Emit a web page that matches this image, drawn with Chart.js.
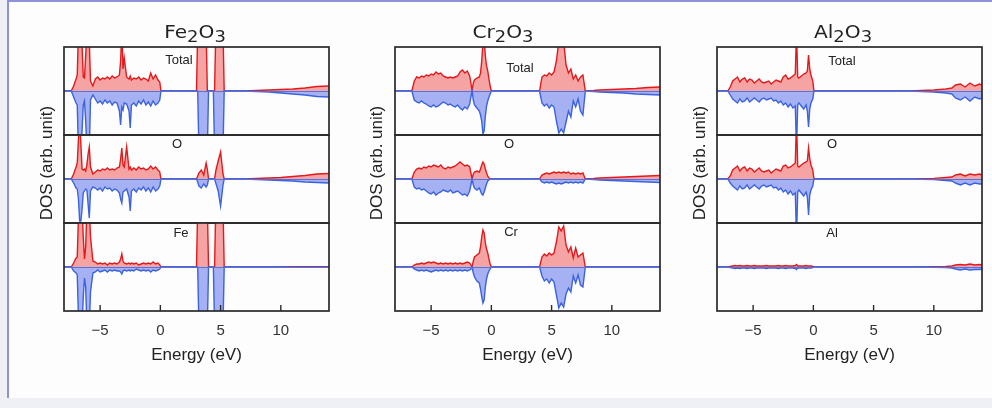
<!DOCTYPE html>
<html>
<head>
<meta charset="utf-8">
<title>DOS of M2O3</title>
<script src="https://cdn.jsdelivr.net/npm/chart.js@4.4.1/dist/chart.umd.min.js"></script>
<style>
  html, body { margin: 0; padding: 0; }
  body { width: 992px; height: 408px; background: #eef0f5; position: relative; overflow: hidden; }
  #sheet { position: absolute; left: 7px; top: 0; width: 990px; height: 396px; background: #fdfdfe;
           border-left: 2px solid #8e91da; border-top: 2px solid #8e91da; }
  canvas { position: absolute; }
  .title { position: absolute; top: 21px; width: 160px; text-align: center; color: #222;
           font: 18px "DejaVu Sans", sans-serif; line-height: 22px; transform: scaleX(1.12); }
  .title span { font-size: 16px; position: relative; top: 4px; }
  .ylab { position: absolute; white-space: nowrap; color: #222; font: 17px "Liberation Sans", Arial, sans-serif;
          transform: translate(-50%, -50%) rotate(-90deg); }
</style>
</head>
<body>
<div id="sheet"></div>
<div id="plots"></div>
<script>
// ---- data: energies in eV, DOS in arbitrary units (spin up > 0, spin down < 0) ----
const energyTicks = [-5, 0, 5, 10];
const compoundNames = ['Fe2O3', 'Cr2O3', 'Al2O3'];
const panelLabels = [['Total', 'O', 'Fe'], ['Total', 'O', 'Cr'], ['Total', 'O', 'Al']];

// Fe2O3
const energyFe = [-8, -7.4, -7.2, -7.0, -6.9, -6.8, -6.7, -6.6, -6.5, -6.4, -6.3, -6.2, -6.1, -6.0, -5.9, -5.8,
  -5.6, -5.4, -5.2, -5.0, -4.8, -4.6, -4.4, -4.2, -4.0, -3.8, -3.6, -3.4, -3.3, -3.2, -3.1, -3.0,
  -2.8, -2.6, -2.5, -2.4, -2.2, -2.0, -1.8, -1.6, -1.4, -1.2, -1.0, -0.8, -0.6, -0.4, -0.2, -0.05, 0.05,
  3.0, 3.1, 3.2, 3.4, 3.6, 3.8, 3.9, 4.0, 4.4, 4.5, 4.6, 4.8, 5.0, 5.2, 5.3,
  7, 8, 9, 10, 11, 12, 13, 14];
const feTotalUp = [0, 0, 5, 12, 16, 60, 60, 60, 45, 14, 13, 35, 60, 60, 50, 10,
  5, 12, 14, 11, 13, 12, 14, 12, 15, 13, 14, 16, 30, 60, 22, 33,
  14, 12, 15, 11, 13, 12, 14, 11, 13, 12, 10, 18, 12, 16, 11, 9, 0,
  0, 60, 60, 60, 60, 60, 0, 0, 0, 0, 60, 60, 60, 60, 0,
  0, 0.5, 1, 1.5, 2, 3, 4.5, 5];
const feTotalDown = [0, 0, -6, -12, -14, -60, -60, -60, -40, -14, -10, -30, -60, -60, -60, -9,
  -4, -8, -12, -10, -13, -9, -12, -10, -14, -11, -12, -20, -34, -16, -19, -12,
  -13, -20, -37, -14, -12, -15, -10, -13, -9, -14, -11, -15, -10, -14, -12, -9, 0,
  0, 0, -60, -60, -60, -60, -60, 0, 0, -60, -60, -60, -60, -60, 0,
  0, -0.5, -1, -2, -3, -4, -5.5, -6];
const feOUp = [0, 0, 5, 12, 16, 40, 60, 35, 10, 9, 10, 8, 14, 25, 32, 12,
  5, 7, 9, 8, 10, 9, 11, 9, 10, 9, 11, 12, 20, 31, 14, 12,
  32, 10, 12, 9, 11, 9, 12, 10, 11, 9, 10, 13, 10, 12, 9, 7, 0,
  0, 3, 6, 9, 4, 16, 10, 0, 0, 0, 8, 18, 27, 5, 0,
  0, 0.5, 1, 1.5, 2.5, 3.5, 5, 5.5];
const feODown = [0, 0, -4, -9, -10, -20, -42, -42, -30, -14, -12, -10, -11, -25, -39, -12,
  -8, -9, -11, -9, -12, -8, -10, -9, -12, -10, -11, -14, -20, -24, -13, -12,
  -10, -18, -32, -12, -10, -13, -9, -11, -8, -12, -9, -13, -8, -12, -10, -7, 0,
  0, -3, -7, -9, -5, -8, -6, 0, 0, 0, -4, -12, -27, -6, 0,
  0, -0.5, -1, -1.5, -2, -3, -3.5, -4];
const feFeUp = [0, 0, 4, 9, 10, 50, 60, 60, 60, 30, 8, 20, 60, 60, 60, 30,
  6, 5, 3, 4, 3, 4, 2, 4, 3, 4, 3, 5, 8, 13, 6, 4,
  3, 4, 3, 4, 3, 4, 2, 3, 4, 3, 4, 3, 5, 3, 4, 2, 0,
  0, 60, 60, 60, 60, 60, 60, 0, 0, 0, 60, 60, 60, 60, 0,
  0, 0, 0, 0, 0.2, 0.2, 0.3, 0.3];
const feFeDown = [0, 0, -4, -6, -8, -50, -60, -60, -60, -30, -11, -20, -60, -60, -60, -25,
  -6, -5, -3, -5, -4, -3, -5, -3, -4, -3, -4, -4, -5, -7, -4, -3,
  -4, -3, -4, -3, -4, -2, -3, -4, -3, -4, -3, -5, -3, -4, -3, -2, 0,
  0, 0, -60, -60, -60, -60, -60, 0, 0, -60, -60, -60, -60, -60, 0,
  0, 0, 0, 0, -0.2, -0.2, -0.3, -0.3];

// Cr2O3
const energyCr = [-8, -6.6, -6.4, -6.2, -6.0, -5.8, -5.6, -5.4, -5.2, -5.0, -4.8, -4.6, -4.4, -4.2, -4.0, -3.8,
  -3.6, -3.4, -3.2, -3.0, -2.8, -2.6, -2.4, -2.2, -2.0, -1.8, -1.7, -1.6, -1.5, -1.4, -1.2, -1.0,
  -0.9, -0.8, -0.7, -0.6, -0.5, -0.4, -0.3, -0.2, -0.1, 0.0,
  4.0, 4.2, 4.4, 4.6, 4.8, 5.0, 5.2, 5.4, 5.6, 5.8, 6.0, 6.2, 6.4, 6.6, 6.8, 7.0, 7.2, 7.4, 7.6, 7.8,
  8.5, 9, 10, 11, 12, 13, 14];
const crTotalUp = [0, 0, 10, 14, 13, 15, 14, 16, 15, 17, 16, 19, 17, 18, 15, 14,
  13, 14, 13, 14, 15, 19, 21, 18, 20, 15, 8, 0, 8, 11, 13, 14,
  18, 30, 48, 52, 35, 25, 20, 12, 5, 0,
  0, 14, 16, 15, 18, 16, 19, 30, 50, 46, 50, 26, 18, 22, 12, 16, 10, 14, 16, 0,
  0.5, 1, 1.5, 2, 2.5, 3.5, 4];
const crTotalDown = [0, 0, -9, -11, -12, -10, -12, -13, -15, -16, -14, -16, -15, -13, -11, -12,
  -14, -13, -15, -16, -14, -17, -19, -16, -18, -13, -6, 0, -9, -14, -17, -20,
  -24, -30, -43, -40, -25, -15, -10, -6, -3, 0,
  0, -12, -15, -13, -17, -14, -16, -30, -42, -38, -42, -31, -20, -26, -10, -16, -8, -20, -24, 0,
  -0.5, -1, -1.5, -2, -3, -3.5, -4];
const crOUp = [0, 0, 7, 10, 11, 10, 12, 11, 13, 12, 14, 13, 12, 14, 11, 10,
  12, 11, 12, 13, 15, 17, 15, 13, 14, 12, 6, 0, 5, 7, 8, 7,
  10, 14, 17, 15, 10, 6, 3, 1, 0, 0,
  0, 4, 5, 6, 5, 6, 7, 6, 7, 6, 7, 6, 7, 5, 6, 5, 6, 5, 6, 0,
  0.5, 1, 1.5, 2, 2.5, 3, 3.5];
const crODown = [0, 0, -8, -10, -9, -11, -10, -12, -14, -15, -13, -16, -14, -13, -11, -12,
  -13, -11, -14, -13, -12, -14, -16, -15, -17, -12, -6, 0, -6, -9, -11, -9,
  -12, -15, -16, -13, -9, -5, -2, -1, 0, 0,
  0, -3, -4, -3, -4, -3, -4, -5, -4, -5, -4, -3, -4, -3, -4, -3, -4, -3, -4, 0,
  -0.5, -1, -1.5, -2, -2.5, -3, -3.5];
const crCrUp = [0, 0, 2, 3, 3, 4, 3, 4, 5, 4, 5, 4, 3, 4, 3, 4,
  3, 4, 3, 4, 3, 4, 3, 4, 5, 4, 2, 0, 6, 10, 12, 14,
  20, 30, 37, 34, 24, 18, 14, 8, 3, 0,
  0, 10, 13, 11, 14, 12, 14, 25, 40, 36, 41, 22, 15, 20, 9, 19, 10, 12, 14, 0,
  0, 0, 0, 0, 0, 0, 0];
const crCrDown = [0, 0, -2, -3, -4, -3, -4, -3, -4, -5, -4, -3, -4, -3, -4, -3,
  -4, -3, -4, -3, -4, -3, -4, -3, -4, -3, -2, 0, -6, -10, -14, -16,
  -22, -30, -36, -33, -20, -12, -7, -4, -2, 0,
  0, -9, -14, -12, -16, -12, -15, -28, -41, -36, -40, -27, -21, -25, -9, -16, -8, -18, -20, 0,
  0, 0, 0, 0, 0, 0, 0];

// Al2O3
const energyAl = [-8, -7.1, -6.9, -6.7, -6.5, -6.3, -6.1, -5.9, -5.7, -5.5, -5.3, -5.1, -4.9, -4.7, -4.5, -4.3,
  -4.1, -3.9, -3.7, -3.5, -3.3, -3.1, -2.9, -2.7, -2.5, -2.3, -2.1, -1.9, -1.7, -1.5, -1.4, -1.3,
  -1.2, -1.0, -0.8, -0.6, -0.5, -0.4, -0.3, -0.2, -0.05, 0.05,
  8, 9, 10, 11, 11.5, 11.8, 12.2, 12.6, 13.0, 13.4, 13.8, 14];
const alTotalUp = [0, 0, 4, 10, 12, 14, 9, 12, 13, 9, 12, 11, 8, 10, 12, 9,
  8, 9, 10, 7, 9, 11, 10, 9, 14, 16, 12, 13, 15, 17, 60, 14,
  13, 15, 17, 18, 20, 36, 22, 16, 10, 0,
  0, 0.5, 1, 2, 3, 6, 7, 4, 8, 5, 7, 6];
const alTotalDown = [0, 0, -4, -8, -10, -12, -8, -11, -10, -7, -11, -9, -7, -9, -11, -8,
  -7, -9, -8, -7, -10, -9, -12, -10, -14, -12, -16, -13, -17, -15, -60, -14,
  -12, -15, -18, -14, -20, -36, -18, -12, -8, 0,
  0, -0.5, -1, -2, -3, -7, -9, -6, -10, -6, -8, -7];
const alOUp = [0, 0, 3, 9, 11, 13, 8, 11, 12, 8, 11, 10, 7, 9, 11, 8,
  7, 8, 9, 6, 8, 10, 9, 8, 13, 14, 11, 12, 14, 16, 60, 13,
  12, 14, 16, 17, 18, 31, 20, 14, 9, 0,
  0, 0.3, 0.6, 1.5, 2, 4, 5, 3, 5, 4, 5, 4];
const alODown = [0, 0, -4, -7, -9, -11, -7, -10, -9, -6, -10, -8, -6, -8, -10, -7,
  -6, -8, -7, -6, -9, -8, -11, -9, -13, -11, -15, -12, -16, -14, -60, -13,
  -11, -14, -17, -13, -18, -36, -16, -11, -7, 0,
  0, -0.3, -0.6, -1.5, -2, -4, -6, -4, -6, -4, -5, -5];
const alAlUp = [0, 0, 0.5, 1, 1.5, 1, 1.5, 1, 1, 1.5, 1, 1, 1.5, 1, 1, 1,
  1, 1.5, 1, 1, 1, 1, 1.5, 1, 1, 1.5, 1, 1, 1, 1.5, 2.5, 1,
  1, 1, 1, 1.5, 1, 1, 1, 1, 0.5, 0,
  0, 0, 0.2, 0.5, 1, 2, 2.5, 2, 3, 2, 2.5, 2];
const alAlDown = [0, 0, -0.5, -1, -1.5, -1, -1.5, -1, -1, -1.5, -1, -1, -1.5, -1, -1, -1,
  -1, -1.5, -1, -1, -1, -1, -1.5, -1, -1, -1.5, -1, -1, -1, -1.5, -2.5, -1,
  -1, -1, -1, -1.5, -1, -1, -1, -1, -0.5, 0,
  0, 0, -0.2, -0.5, -1, -2, -3, -2, -3, -2.5, -2.5, -2];

const columns = [
  { energy: energyFe, up: [feTotalUp, feOUp, feFeUp], down: [feTotalDown, feODown, feFeDown] },
  { energy: energyCr, up: [crTotalUp, crOUp, crCrUp], down: [crTotalDown, crODown, crCrDown] },
  { energy: energyAl, up: [alTotalUp, alOUp, alAlUp], down: [alTotalDown, alODown, alAlDown] }
];

// ---- layout ----
const colLeft = [64, 395, 717];
const titleCenter = [195, 503, 843];
const dosLabelX = [47, 377, 700];
const DOS_Y = 163;
const labelPos = [[[115, 13], [113, 9], [117, 10]],
                  [[125, 21], [114, 9], [116, 9]],
                  [[125, 14], [115, 9], [115, 10]]];
const BOX_TOP = 47, PANEL_H = 88, BOX_W = 265, PAD = 6, XAXIS_H = 57;
const RED = '#e31a1c', RED_FILL = '#f6a3a3', BLUE = '#3b63de', BLUE_FILL = '#a5b1f2';
const ZERO = '#4f74e4', FRAME = '#2a2a2a';

Chart.defaults.font.family = '"Liberation Sans", Arial, sans-serif';
Chart.defaults.color = '#333';

// frame, zero line, inner ticks and panel label
const panelDeco = {
  id: 'panelDeco',
  afterDatasetsDraw(chart, args, o) {
    const { ctx, chartArea: a, scales } = chart;
    ctx.save();
    const y0 = Math.round(scales.y.getPixelForValue(0)) + 0.5;
    ctx.strokeStyle = ZERO;
    ctx.lineWidth = 1;
    ctx.beginPath();
    ctx.moveTo(a.left, y0);
    ctx.lineTo(a.right, y0);
    ctx.stroke();

    ctx.strokeStyle = FRAME;
    ctx.lineWidth = 1.7;
    ctx.strokeRect(a.left, a.top, a.width, a.height);
    if (o.ticks) {
      ctx.lineWidth = 1.4;
      ctx.beginPath();
      energyTicks.forEach(v => {
        const px = scales.x.getPixelForValue(v);
        ctx.moveTo(px, a.bottom);
        ctx.lineTo(px, a.bottom - 6);
      });
      ctx.stroke();
    }
    ctx.fillStyle = '#222';
    ctx.font = '13px "Liberation Sans", Arial, sans-serif';
    ctx.textAlign = 'center';
    ctx.textBaseline = 'middle';
    ctx.fillText(o.label, a.left + o.dx, a.top + o.dy);
    ctx.restore();
  }
};

function makePanel(ci, pi) {
  const col = columns[ci];
  const L = colLeft[ci], T = BOX_TOP + PANEL_H * pi;
  const bottom = pi === 2;

  const c = document.createElement('canvas');
  c.width = PAD + BOX_W + PAD;
  c.height = PAD + PANEL_H + (bottom ? XAXIS_H : 0) + PAD;
  c.style.left = (L - PAD) + 'px';
  c.style.top = (T - PAD) + 'px';
  document.getElementById('plots').appendChild(c);

  const pts = vals => col.energy.map((e, i) => ({ x: e, y: vals[i] }));

  new Chart(c, {
    type: 'line',
    data: {
      datasets: [
        { data: pts(col.down[pi]), borderColor: BLUE, backgroundColor: BLUE_FILL, fill: 'origin', borderWidth: 1.4 },
        { data: pts(col.up[pi]), borderColor: RED, backgroundColor: RED_FILL, fill: 'origin', borderWidth: 1.4 }
      ]
    },
    options: {
      responsive: false,
      animation: false,
      devicePixelRatio: 1,
      events: [],
      layout: { autoPadding: false, padding: PAD },
      elements: { point: { radius: 0 }, line: { tension: 0 } },
      scales: {
        x: {
          type: 'linear', min: -8, max: 14, display: bottom,
          grid: { display: false, drawTicks: false },
          border: { display: false },
          afterBuildTicks: s => { s.ticks = energyTicks.map(v => ({ value: v })); },
          afterFit: s => { if (s.options.display) s.height = XAXIS_H; },
          ticks: {
            padding: 11, maxRotation: 0, color: '#333', font: { size: 15 },
            callback: v => v < 0 ? '\u2212' + Math.abs(v) : String(v)
          },
          title: { display: true, text: 'Energy (eV)', color: '#222', font: { size: 17 }, padding: { top: 0, bottom: 2 } }
        },
        y: { min: -44, max: 44, display: false }
      },
      plugins: {
        legend: { display: false },
        tooltip: { enabled: false },
        panelDeco: { label: panelLabels[ci][pi], dx: labelPos[ci][pi][0], dy: labelPos[ci][pi][1], ticks: bottom }
      }
    },
    plugins: [panelDeco]
  });
}

compoundNames.forEach((name, ci) => {
  const t = document.createElement('div');
  t.className = 'title';
  t.style.left = (titleCenter[ci] - 80) + 'px';
  t.innerHTML = name.replace(/(\d)/g, '<span>$1</span>');
  document.body.appendChild(t);

  const y = document.createElement('div');
  y.className = 'ylab';
  y.style.left = dosLabelX[ci] + 'px';
  y.style.top = DOS_Y + 'px';
  y.textContent = 'DOS (arb. unit)';
  document.body.appendChild(y);

  for (let pi = 0; pi < 3; pi++) makePanel(ci, pi);
});

const problems = [];
columns.forEach((c, ci) => c.up.concat(c.down).forEach((v, k) => {
  if (v.length !== c.energy.length) problems.push(ci + ':' + k + ' ' + v.length + '/' + c.energy.length);
}));
if (problems.length) throw new Error('length mismatch ' + problems.join(', '));
</script>
</body>
</html>
